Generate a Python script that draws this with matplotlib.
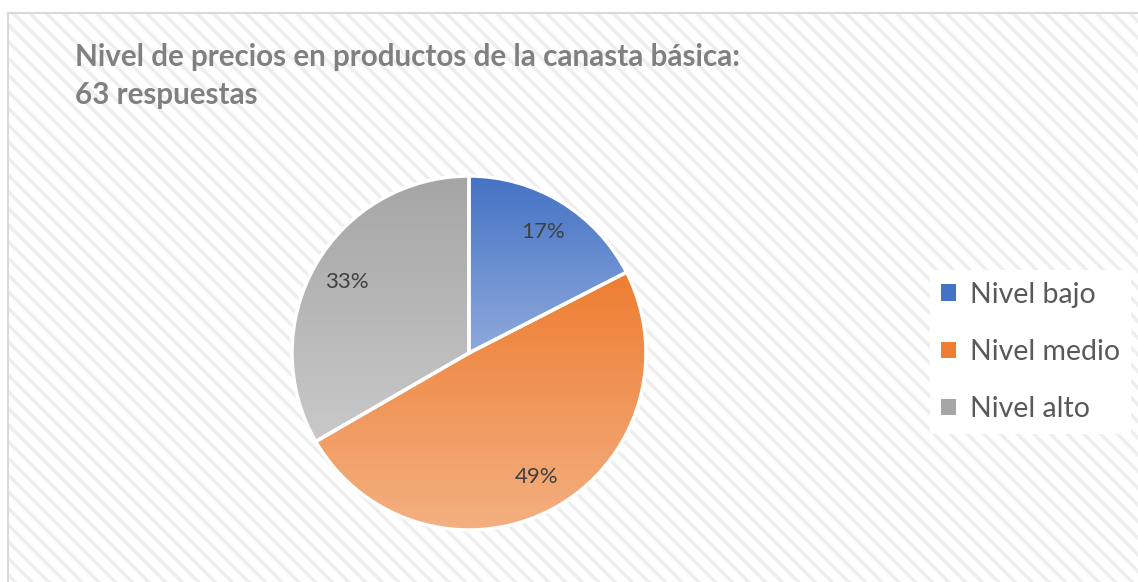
import numpy as np
import matplotlib
matplotlib.use('Agg')
import matplotlib.pyplot as plt
from matplotlib.patches import Rectangle, Patch
from matplotlib.colors import LinearSegmentedColormap

plt.rcParams['font.family'] = ['Lato', 'DejaVu Sans']
plt.rcParams['hatch.linewidth'] = 2.5

title_lines = ['Nivel de precios en productos de la canasta básica:', '63 respuestas']
labels = ['Nivel bajo', 'Nivel medio', 'Nivel alto']
counts = [11, 31, 21]
top_colors = ['#4472C4', '#ED7D31', '#A5A5A5']
bottom_colors = ['#8FAADC', '#F4B183', '#C9C9C9']

W, H = 1138, 582
fig = plt.figure(figsize=(W / 100, H / 100), dpi=100)
fig.patch.set_facecolor('white')

# striped background + left/top border (drawn below the axes)
bg = Rectangle((8 / W, -0.1), 1.2, 0.1 + (H - 13) / H, transform=fig.transFigure,
               facecolor='white', edgecolor='#EEEEEE', hatch='\\\\', linewidth=0, zorder=-2)
fig.patches.append(bg)
border = Rectangle((8 / W, -0.1), 1.2, 0.1 + (H - 13) / H, transform=fig.transFigure,
                   facecolor='none', edgecolor='#D9D9D9', linewidth=1.5, zorder=-1)
fig.patches.append(border)

cx, cy, r = 469, 353, 177
ax = fig.add_axes([(cx - r) / W, (H - cy - r) / H, 2 * r / W, 2 * r / H])
wedges, texts, autotexts = ax.pie(counts, colors=top_colors, startangle=90, counterclock=False,
                                  autopct='%1.0f%%', pctdistance=0.8,
                                  textprops=dict(fontsize=16, color='#404040'))

for w, c1, c2 in zip(wedges, top_colors, bottom_colors):
    v = w.get_path().vertices
    x0, x1 = v[:, 0].min(), v[:, 0].max()
    y0, y1 = v[:, 1].min(), v[:, 1].max()
    cmap = LinearSegmentedColormap.from_list('g', [c2, c1])
    grad = np.linspace(0, 1, 256).reshape(-1, 1)
    im = ax.imshow(grad, cmap=cmap, extent=[x0, x1, y0, y1], origin='lower',
                   aspect='auto', zorder=1, interpolation='bilinear')
    im.set_clip_path(w)
    w.set_facecolor('none')
    w.set_edgecolor('white')
    w.set_linewidth(2.5)
    w.set_zorder(2)
    w.set_clip_on(False)

for t in autotexts:
    t.set_zorder(3)

ax.set_xlim(-1, 1)
ax.set_ylim(-1, 1)
ax.set_aspect('equal')
ax.axis('off')

for line, base in zip(title_lines, [66, 104]):
    fig.text(75 / W, (H - base) / H, line, fontsize=21.3, fontweight='bold', color='#808080',
             ha='left', va='baseline')

handles = [Patch(facecolor=c) for c in top_colors]
leg = fig.legend(handles, labels, loc='center left', bbox_to_anchor=(930 / W, (H - 352) / H),
                 fontsize=20.5, frameon=True, fancybox=False, edgecolor='none',
                 facecolor='white', framealpha=1, handlelength=0.5, handleheight=0.5,
                 handletextpad=0.5, labelspacing=1.1, borderpad=0.4, borderaxespad=0)
for t in leg.get_texts():
    t.set_color('#595959')

fig.savefig('out.png', dpi=100)
